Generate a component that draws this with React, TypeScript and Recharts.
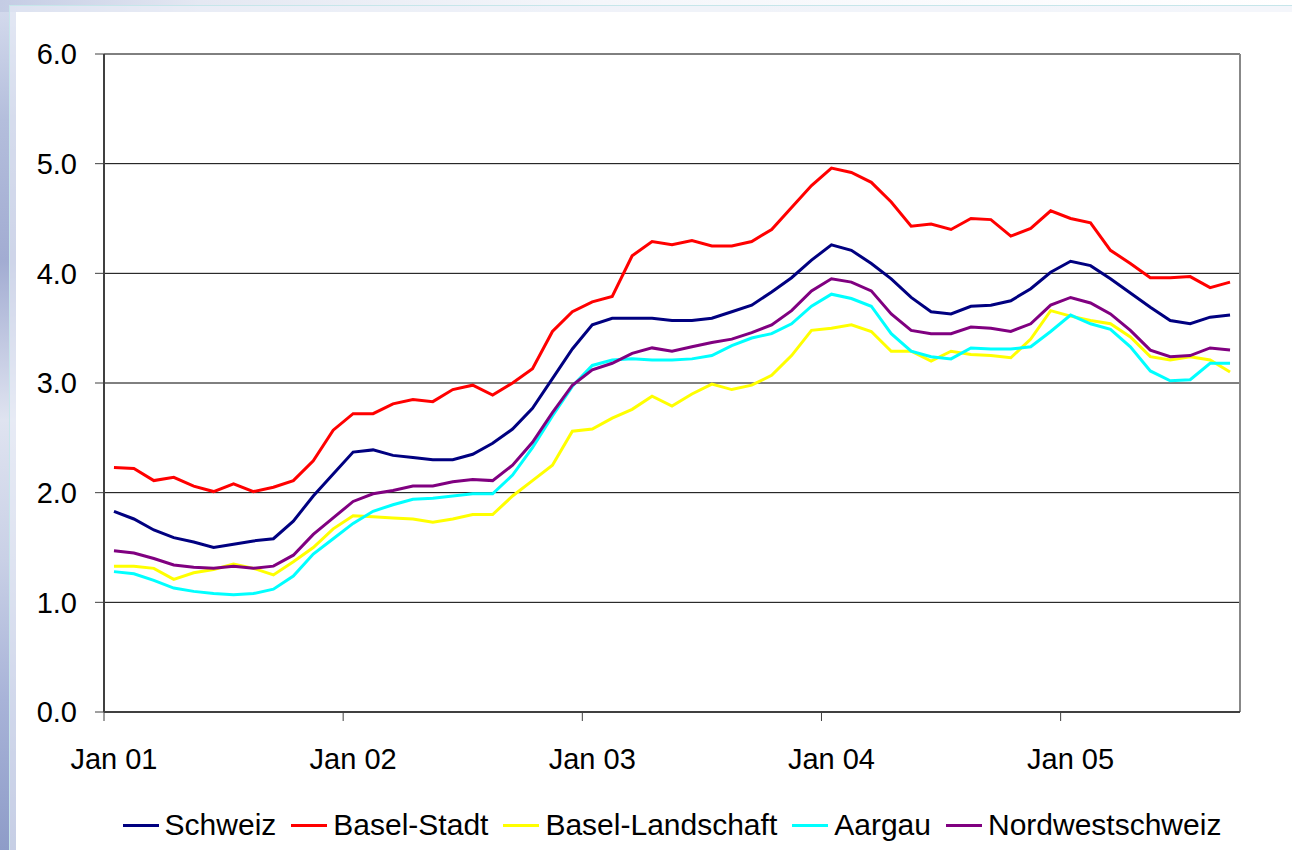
import React from 'react';
import { LineChart, Line, XAxis, YAxis, CartesianGrid, Legend, ReferenceLine } from 'recharts';

// monthly index values, Jan 01 .. Sep 05
const years = ['01', '02', '03', '04', '05'];
const monthNames = ['Jan', 'Feb', 'Mar', 'Apr', 'May', 'Jun', 'Jul', 'Aug', 'Sep', 'Oct', 'Nov', 'Dec'];
const months = years.flatMap((y) => monthNames.map((m) => `${m} ${y}`)).slice(0, 57);
const xTickLabels = ['Jan 01', 'Jan 02', 'Jan 03', 'Jan 04', 'Jan 05'];
const yTicks = [0, 1, 2, 3, 4, 5, 6];

const schweiz = [
  1.83, 1.76, 1.66, 1.59, 1.55, 1.5, 1.53, 1.56, 1.58, 1.74, 1.97, 2.17,
  2.37, 2.39, 2.34, 2.32, 2.3, 2.3, 2.35, 2.45, 2.58, 2.77, 3.04, 3.31,
  3.53, 3.59, 3.59, 3.59, 3.57, 3.57, 3.59, 3.65, 3.71, 3.83, 3.96, 4.12,
  4.26, 4.21, 4.09, 3.95, 3.78, 3.65, 3.63, 3.7, 3.71, 3.75, 3.86, 4.01,
  4.11, 4.07, 3.95, 3.82, 3.69, 3.57, 3.54, 3.6, 3.62,
];
const baselStadt = [
  2.23, 2.22, 2.11, 2.14, 2.06, 2.01, 2.08, 2.01, 2.05, 2.11, 2.29, 2.57,
  2.72, 2.72, 2.81, 2.85, 2.83, 2.94, 2.98, 2.89, 3.0, 3.13, 3.47, 3.65,
  3.74, 3.79, 4.16, 4.29, 4.26, 4.3, 4.25, 4.25, 4.29, 4.4, 4.6, 4.8,
  4.96, 4.92, 4.83, 4.65, 4.43, 4.45, 4.4, 4.5, 4.49, 4.34, 4.41, 4.57,
  4.5, 4.46, 4.21, 4.09, 3.96, 3.96, 3.97, 3.87, 3.92,
];
const baselLandschaft = [
  1.33, 1.33, 1.31, 1.21, 1.27, 1.3, 1.35, 1.31, 1.25, 1.37, 1.5, 1.67,
  1.79, 1.78, 1.77, 1.76, 1.73, 1.76, 1.8, 1.8, 1.97, 2.11, 2.25, 2.56,
  2.58, 2.68, 2.76, 2.88, 2.79, 2.9, 2.99, 2.94, 2.98, 3.07, 3.25, 3.48,
  3.5, 3.53, 3.47, 3.29, 3.29, 3.2, 3.29, 3.26, 3.25, 3.23, 3.4, 3.66,
  3.61, 3.57, 3.54, 3.42, 3.24, 3.21, 3.24, 3.21, 3.1,
];
const aargau = [
  1.28, 1.26, 1.2, 1.13, 1.1, 1.08, 1.07, 1.08, 1.12, 1.24, 1.44, 1.58,
  1.72, 1.83, 1.89, 1.94, 1.95, 1.97, 1.99, 1.99, 2.16, 2.41, 2.7, 2.97,
  3.16, 3.21, 3.22, 3.21, 3.21, 3.22, 3.25, 3.34, 3.41, 3.45, 3.54, 3.7,
  3.81, 3.77, 3.7, 3.45, 3.29, 3.24, 3.22, 3.32, 3.31, 3.31, 3.33, 3.47,
  3.62, 3.54, 3.49, 3.33, 3.11, 3.02, 3.03, 3.18, 3.18,
];
const nordwestschweiz = [
  1.47, 1.45, 1.4, 1.34, 1.32, 1.31, 1.33, 1.31, 1.33, 1.43, 1.62, 1.77,
  1.92, 1.99, 2.02, 2.06, 2.06, 2.1, 2.12, 2.11, 2.25, 2.46, 2.73, 2.98,
  3.12, 3.18, 3.27, 3.32, 3.29, 3.33, 3.37, 3.4, 3.46, 3.53, 3.66, 3.84,
  3.95, 3.92, 3.84, 3.63, 3.48, 3.45, 3.45, 3.51, 3.5, 3.47, 3.54, 3.71,
  3.78, 3.73, 3.63, 3.48, 3.3, 3.24, 3.25, 3.32, 3.3,
];

const series = [
  { key: 'schweiz', name: 'Schweiz', color: '#000080' },
  { key: 'baselStadt', name: 'Basel-Stadt', color: '#ff0000' },
  { key: 'baselLandschaft', name: 'Basel-Landschaft', color: '#ffff00' },
  { key: 'aargau', name: 'Aargau', color: '#00ffff' },
  { key: 'nordwestschweiz', name: 'Nordwestschweiz', color: '#800080' },
];

const data = months.map((month, i) => ({
  idx: i,
  month,
  schweiz: schweiz[i],
  baselStadt: baselStadt[i],
  baselLandschaft: baselLandschaft[i],
  aargau: aargau[i],
  nordwestschweiz: nordwestschweiz[i],
}));

const W = 1292;
const H = 850;
const FONT = '"Liberation Sans", Arial, sans-serif';
const plotLeft = 104;
const plotRight = 1240;
const halfBand = (plotRight - plotLeft) / months.length / 2;

// labels sit in the middle of the January slot, tick marks on the slot boundary
const XTick = (props: any) => {
  const { x, y, payload } = props;
  const label = months[Math.round(payload.value + 0.5)];
  return (
    <text x={x + halfBand} y={y} dy="0.71em" textAnchor="middle" fontSize={29} fill="#000" fontFamily={FONT}>
      {label}
    </text>
  );
};

const LegendContent = () => (
  <div
    style={{
      display: 'flex',
      justifyContent: 'center',
      alignItems: 'center',
      height: 40,
      fontFamily: FONT,
      fontSize: 30,
      color: '#000',
      whiteSpace: 'nowrap',
    }}
  >
    {series.map((s, k) => (
      <div key={s.key} style={{ display: 'flex', alignItems: 'center', marginLeft: k === 0 ? 0 : 15 }}>
        <div style={{ width: 36, height: 3, background: s.color, marginRight: 6 }} />
        <span>{s.name}</span>
      </div>
    ))}
  </div>
);

export default function App() {
  return (
    <div style={{ position: 'absolute', left: 0, top: 0, width: W, height: H, overflow: 'hidden', background: '#ffffff' }}>
      {/* slide background strip */}
      <div
        style={{
          position: 'absolute',
          left: 0,
          top: 0,
          width: 18,
          height: H,
          background:
            'linear-gradient(180deg, #d6dcee 0px, #b4bedc 120px, #a2acd2 260px, #dfe3f0 420px, #c9d0e6 560px, #a8b3d8 700px, #8e9cc8 850px)',
        }}
      />
      <div
        style={{
          position: 'absolute',
          left: 0,
          top: 0,
          width: W,
          height: 12,
          background: 'linear-gradient(90deg, #c4cce4 0px, #e4e8f2 200px, #f4f6fa 600px, #ffffff 1292px)',
        }}
      />
      <div
        style={{
          position: 'absolute',
          left: 9,
          top: 5,
          width: W - 9,
          height: H - 5,
          borderLeft: '1px solid #c6e6ea',
          borderTop: '1px solid #c6e6ea',
          background: 'rgba(236, 240, 248, 0.6)',
        }}
      />
      <div style={{ position: 'absolute', left: 16, top: 12, width: W - 16, height: H - 12, background: '#ffffff' }} />

      <div style={{ position: 'absolute', left: 0, top: 0 }}>
        <LineChart width={W} height={H} data={data} margin={{ top: 54, right: W - plotRight, bottom: 5, left: 0 }}>
          <CartesianGrid vertical={false} stroke="#000" strokeWidth={1} />
          <XAxis
            dataKey="idx"
            type="number"
            domain={[-0.5, months.length - 0.5]}
            ticks={xTickLabels.map((_, k) => k * 12 - 0.5)}
            interval={0}
            height={93}
            tickSize={9}
            tickMargin={27}
            tick={<XTick />}
            axisLine={{ stroke: '#404040', strokeWidth: 2 }}
            tickLine={{ stroke: '#404040', strokeWidth: 1 }}
          />
          <YAxis
            type="number"
            domain={[0, 6]}
            ticks={yTicks}
            interval={0}
            width={plotLeft}
            tickSize={9}
            tickMargin={18}
            tickFormatter={(v: number) => v.toFixed(1)}
            tick={{ fill: '#000', fontSize: 29, fontFamily: FONT }}
            axisLine={{ stroke: '#404040', strokeWidth: 2 }}
            tickLine={{ stroke: '#404040', strokeWidth: 1 }}
          />
          <ReferenceLine x={months.length - 0.5} stroke="#888" strokeWidth={2} />
          <Legend verticalAlign="bottom" height={40} wrapperStyle={{ left: plotLeft, width: plotRight - plotLeft }} content={<LegendContent />} />
          {series.map((s) => (
            <Line
              key={s.key}
              type="linear"
              dataKey={s.key}
              name={s.name}
              stroke={s.color}
              strokeWidth={3}
              dot={false}
              activeDot={false}
              isAnimationActive={false}
            />
          ))}
        </LineChart>
      </div>
    </div>
  );
}
